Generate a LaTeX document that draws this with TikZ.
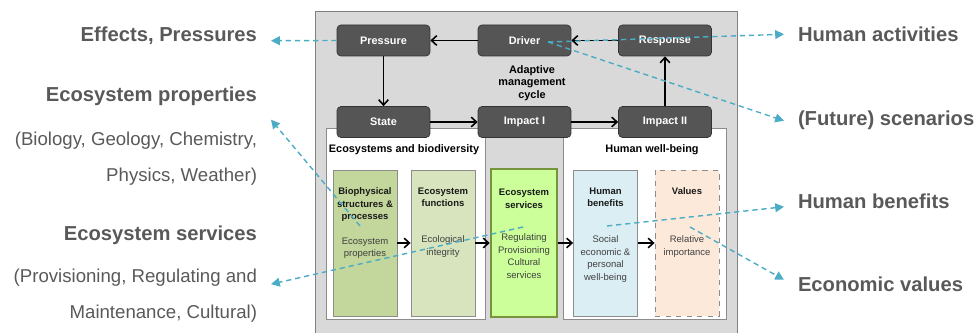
\documentclass[tikz,border=0pt]{standalone}
\usepackage{fontspec}
\setmainfont{Liberation Sans}
\usetikzlibrary{arrows.meta}
\definecolor{cyclegray}{HTML}{D9D9D9}
\definecolor{stagedark}{HTML}{555555}
\definecolor{labelgray}{HTML}{595959}
\definecolor{linkblue}{HTML}{4BACC6}
\definecolor{biogreen}{HTML}{C3D69B}
\definecolor{fungreen}{HTML}{D7E4BD}
\definecolor{servgreen}{HTML}{CCFF99}
\definecolor{servedge}{HTML}{77933C}
\definecolor{benblue}{HTML}{DBEEF4}
\definecolor{valpeach}{HTML}{FDE9D9}
\begin{document}
\begin{tikzpicture}[x=0.02cm, y=-0.02cm,
	stage/.style={draw=black!80, fill=stagedark, rounded corners=0.08cm, minimum width=1.86cm, minimum height=0.62cm, text=white, font=\fontsize{6.2}{7}\selectfont\bfseries},
	cyc/.style={-{Straight Barb[length=3pt,width=5.5pt]}, line width=0.9pt},
	panel/.style={draw=black!45, fill=white, line width=0.5pt},
	paneltitle/.style={inner sep=0pt, font=\fontsize{6.2}{7}\selectfont\bfseries},
	part/.style={draw=black!45, line width=0.5pt, minimum width=1.28cm, minimum height=2.92cm},
	parthead/.style={anchor=north, inner sep=0pt, align=center, font=\fontsize{5.4}{7.1}\selectfont\bfseries, text=black!90},
	partbody/.style={anchor=north, inner sep=0pt, align=center, font=\fontsize{5.4}{7.1}\selectfont, text=black!75},
	tag/.style={draw=linkblue, dash pattern=on 3pt off 2.2pt, line width=0.8pt, -{Triangle[length=5pt,width=5pt]}},
	side/.style={inner sep=0pt, outer sep=0.28cm, text=labelgray, font=\fontsize{11.5}{13}\selectfont\bfseries},
	sidenote/.style={side, font=\fontsize{10.6}{12}\selectfont}]
	\useasboundingbox (0,0) rectangle (978,333);
	% cycle background and the two panels
	\draw[black!50, fill=cyclegray] (315,11) rectangle (737,345);
	\draw[panel] (326,128) rectangle (485,319);
	\draw[panel] (563,128) rectangle (726,319);
	\node[paneltitle] (ecotitle) at (404,150) {Ecosystems and biodiversity};
	\node[paneltitle] (welltitle) at (652,150) {Human well-being};
	% adaptive management cycle
	\node[stage] (pres) at (383.5,40.5) {Pressure};
	\node[stage] (drv) at (524.5,40.5) {Driver};
	\node[stage] (resp) at (665,40.5) {Response};
	\node[stage] (state) at (383.5,122) {State};
	\node[stage] (imp1) at (524.5,122) {Impact I};
	\node[stage] (imp2) at (665,122) {Impact II};
	\node[paneltitle, align=center, font=\fontsize{6.2}{7.1}\selectfont\bfseries] (cycle) at (532,83) {Adaptive\\management\\cycle};
	\draw[cyc] (drv) -- (pres);
	\draw[cyc] (pres) -- (state);
	\draw[cyc] (state) -- (imp1);
	\draw[cyc] (imp1) -- (imp2);
	\draw[cyc] (imp2) -- (resp);
	\draw[cyc] (resp) -- (drv);
	% cascade
	\node[part, fill=biogreen] (bio) at (365,243) {};
	\node[part, fill=fungreen] (fun) at (443,243) {};
	\node[part, fill=servgreen, draw=servedge, line width=1.5pt, minimum width=1.32cm, minimum height=2.96cm] (serv) at (524,243) {};
	\node[part, fill=benblue] (ben) at (605.5,243) {};
	\node[part, fill=valpeach, dashed] (val) at (687,243) {};
	\draw[cyc] (bio) -- (fun);
	\draw[cyc] (fun) -- (serv);
	\draw[cyc] (serv) -- (ben);
	\draw[cyc] (ben) -- (val);
	\node[parthead] (biohead) at ([yshift=-0.36cm]bio.north) {Biophysical\\structures \&\\processes};
	\node[parthead] (funhead) at ([yshift=-0.36cm]fun.north) {Ecosystem\\functions};
	\node[parthead] (servhead) at ([yshift=-0.42cm]serv.north) {Ecosystem\\services};
	\node[parthead] (benhead) at ([yshift=-0.36cm]ben.north) {Human\\benefits};
	\node[parthead] (valhead) at ([yshift=-0.36cm]val.north) {Values};
	\node[partbody] (biobody) at ([yshift=-1.36cm]bio.north) {Ecosystem\\properties};
	\node[partbody] (funbody) at ([yshift=-1.32cm]fun.north) {Ecological\\integrity};
	\node[partbody] (servbody) at ([yshift=-1.32cm]serv.north) {Regulating\\Provisioning\\Cultural\\services};
	\node[partbody] (benbody) at ([yshift=-1.32cm]ben.north) {Social\\economic \&\\personal\\well-being};
	\node[partbody] (valbody) at ([yshift=-1.32cm]val.north) {Relative\\importance};
	% side labels
	\node[side, anchor=base east] (eff) at (271,41.5) {Effects, Pressures};
	\node[side, anchor=base east] (props) at (271,101.5) {Ecosystem properties};
	\node[sidenote, anchor=base east] (propsa) at (271,146) {(Biology, Geology, Chemistry,};
	\node[sidenote, anchor=base east] (propsb) at (271,182) {Physics, Weather)};
	\node[side, anchor=base east] (servs) at (271,240.5) {Ecosystem services};
	\node[sidenote, anchor=base east] (servsa) at (271,283) {(Provisioning, Regulating and};
	\node[sidenote, anchor=base east] (servsb) at (271,319) {Maintenance, Cultural)};
	\node[side, anchor=base west] (act) at (784,41.5) {Human activities};
	\node[side, anchor=base west] (scen) at (784,126) {(Future) scenarios};
	\node[side, anchor=base west] (hben) at (784,209) {Human benefits};
	\node[side, anchor=base west] (econ) at (784,292) {Economic values};
	% links
	\coordinate (drvtag) at (548,42);
	\coordinate (biotag) at (360,226);
	\coordinate (servtag) at (523,227);
	\coordinate (bentag) at (607,226);
	\coordinate (valtag) at (690,227);
	\draw[tag] (pres.west) -- ([yshift=-0.1cm]eff.east);
	\draw[tag] (drvtag) -- (act.west);
	\draw[tag] (drvtag) -- (scen.west);
	\draw[tag] (biotag) -- (props.south east);
	\draw[tag] (servtag) -- ([yshift=-0.12cm]servsa.east);
	\draw[tag] (bentag) -- ([yshift=-0.1cm]hben.west);
	\draw[tag] (valtag) -- ([yshift=0.1cm]econ.west);
\end{tikzpicture}
\end{document}
